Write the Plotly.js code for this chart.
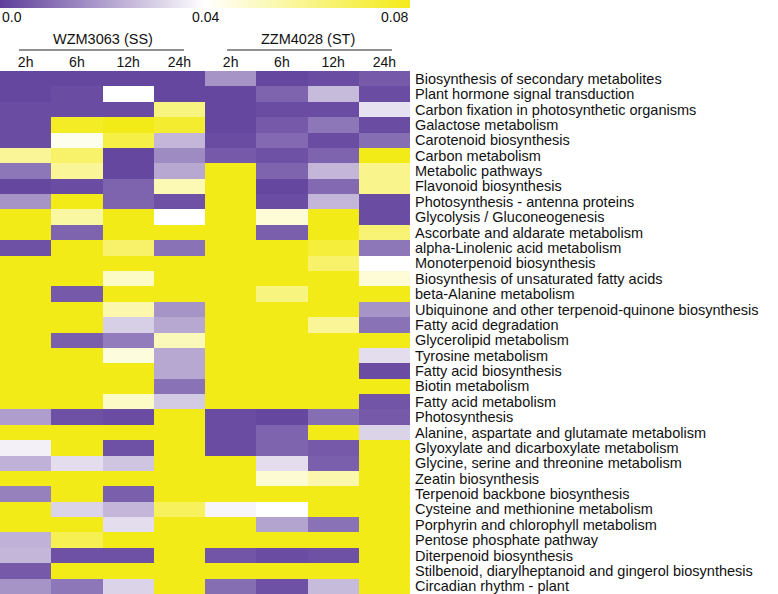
<!DOCTYPE html>
<html>
<head>
<meta charset="utf-8">
<script src="https://cdn.plot.ly/plotly-3.0.1.min.js"></script>
<style>html,body{margin:0;padding:0;background:#fff;}#chart{width:778px;height:594px;}</style>
</head>
<body>
<div id="chart"></div>
<script>
const pathways = [
  "Biosynthesis of secondary metabolites",
  "Plant hormone signal transduction",
  "Carbon fixation in photosynthetic organisms",
  "Galactose metabolism",
  "Carotenoid biosynthesis",
  "Carbon metabolism",
  "Metabolic pathways",
  "Flavonoid biosynthesis",
  "Photosynthesis - antenna proteins",
  "Glycolysis / Gluconeogenesis",
  "Ascorbate and aldarate metabolism",
  "alpha-Linolenic acid metabolism",
  "Monoterpenoid biosynthesis",
  "Biosynthesis of unsaturated fatty acids",
  "beta-Alanine metabolism",
  "Ubiquinone and other terpenoid-quinone biosynthesis",
  "Fatty acid degradation",
  "Glycerolipid metabolism",
  "Tyrosine metabolism",
  "Fatty acid biosynthesis",
  "Biotin metabolism",
  "Fatty acid metabolism",
  "Photosynthesis",
  "Alanine, aspartate and glutamate metabolism",
  "Glyoxylate and dicarboxylate metabolism",
  "Glycine, serine and threonine metabolism",
  "Zeatin biosynthesis",
  "Terpenoid backbone biosynthesis",
  "Cysteine and methionine metabolism",
  "Porphyrin and chlorophyll metabolism",
  "Pentose phosphate pathway",
  "Diterpenoid biosynthesis",
  "Stilbenoid, diarylheptanoid and gingerol biosynthesis",
  "Circadian rhythm - plant"
];
const groups = ["WZM3063 (SS)", "ZZM4028 (ST)"];
const timepoints = ["2h", "6h", "12h", "24h"];
const colorbarTicks = ["0.0", "0.04", "0.08"];
const zMin = 0.0, zMax = 0.08;

const wzm2h  = [.002,.002,.003,.003,.003,.058,.012,.002,.018,.08,.08,.004,.08,.08,.08,.08,.08,.08,.08,.08,.08,.08,.020,.08,.037,.024,.08,.014,.08,.08,.024,.025,.006,.018];
const wzm6h  = [.002,.003,.003,.078,.043,.066,.058,.003,.08,.056,.008,.08,.08,.08,.006,.08,.08,.007,.08,.08,.08,.08,.004,.08,.08,.033,.08,.08,.031,.08,.070,.004,.08,.012];
const wzm12h = [.002,.040,.003,.080,.072,.002,.002,.008,.008,.08,.08,.066,.08,.050,.08,.054,.030,.013,.046,.08,.08,.050,.003,.08,.004,.028,.08,.007,.025,.033,.08,.004,.08,.031];
const wzm24h = [.002,.002,.062,.076,.025,.016,.022,.053,.004,.040,.08,.011,.08,.08,.08,.018,.022,.052,.022,.022,.011,.029,.08,.08,.08,.08,.08,.08,.068,.08,.08,.08,.08,.08];
const zzm2h  = [.018,.002,.002,.002,.003,.006,.08,.08,.08,.08,.08,.08,.08,.08,.08,.08,.08,.08,.08,.08,.08,.08,.003,.003,.003,.08,.08,.08,.038,.08,.08,.005,.08,.010];
const zzm6h  = [.002,.008,.003,.006,.009,.004,.008,.002,.003,.047,.007,.08,.08,.08,.062,.08,.08,.08,.08,.08,.08,.08,.002,.008,.008,.033,.048,.08,.040,.021,.08,.003,.08,.004];
const zzm12h = [.003,.026,.003,.012,.003,.008,.025,.009,.025,.08,.08,.074,.066,.08,.08,.08,.058,.08,.08,.08,.08,.08,.010,.08,.006,.007,.054,.08,.08,.011,.08,.004,.08,.026];
const zzm24h = [.006,.003,.034,.003,.010,.08,.060,.060,.003,.003,.064,.012,.040,.047,.08,.018,.011,.08,.033,.003,.08,.005,.006,.031,.08,.08,.08,.08,.08,.08,.08,.08,.08,.08];

const columns = [wzm2h, wzm6h, wzm12h, wzm24h, zzm2h, zzm6h, zzm12h, zzm24h];
const colLabels = timepoints.concat(timepoints);
const xIdx = colLabels.map((_, i) => i);
const z = pathways.map((_, r) => columns.map(c => c[r]));

const W = 778, H = 594, mL = 0, mR = 368, mT = 71, mB = 0;
const plotH = H - mT - mB;
const pyFromTop = px => (H - mB - px) / plotH; // px from top -> paper y

const font = "Liberation Sans, Arial, sans-serif";

const trace = {
  type: "heatmap",
  x: xIdx,
  y: pathways,
  z: z,
  zmin: zMin, zmax: zMax,
  colorscale: [[0, "#5e3d9a"], [0.5, "#ffffff"], [1, "#f3eb18"]],
  xgap: 0, ygap: 0,
  colorbar: {
    orientation: "h",
    lenmode: "pixels", len: 410,
    thicknessmode: "pixels", thickness: 8,
    x: 0, xanchor: "left", xref: "paper",
    y: 1, yanchor: "top", yref: "container",
    xpad: 0, ypad: 0,
    outlinewidth: 0,
    showticklabels: false,
    ticks: ""
  }
};

const annotations = [
  {text: colorbarTicks[0], x: 0, xanchor: "left", xref: "paper", y: pyFromTop(16.5), yanchor: "middle", yref: "paper", showarrow: false, font: {family: font, size: 14, color: "#111"}},
  {text: colorbarTicks[1], x: 0.5, xanchor: "center", xref: "paper", y: pyFromTop(16.5), yanchor: "middle", yref: "paper", showarrow: false, font: {family: font, size: 14, color: "#111"}},
  {text: colorbarTicks[2], x: 1, xanchor: "right", xref: "paper", y: pyFromTop(16.5), yanchor: "middle", yref: "paper", showarrow: false, font: {family: font, size: 14, color: "#111"}},
  {text: groups[0], x: 1.5, xref: "x", xanchor: "center", y: pyFromTop(38.5), yanchor: "middle", yref: "paper", showarrow: false, font: {family: font, size: 14.5, color: "#111"}},
  {text: groups[1], x: 5.5, xref: "x", xanchor: "center", y: pyFromTop(38.5), yanchor: "middle", yref: "paper", showarrow: false, font: {family: font, size: 14.5, color: "#111"}}
];

const shapes = [
  {type: "line", xref: "x", yref: "paper", x0: -0.13, x1: 3.09, y0: pyFromTop(50), y1: pyFromTop(50), line: {color: "#222", width: 1}},
  {type: "line", xref: "x", yref: "paper", x0: 3.93, x1: 7.15, y0: pyFromTop(50), y1: pyFromTop(50), line: {color: "#222", width: 1}}
];

const layout = {
  width: W, height: H,
  margin: {l: mL, r: mR, t: mT, b: mB, pad: 0},
  paper_bgcolor: "#fff", plot_bgcolor: "#fff",
  font: {family: font, color: "#111"},
  xaxis: {
    side: "top", range: [-0.5, 7.5], tickmode: "array", tickvals: xIdx, ticktext: colLabels,
    ticks: "", showgrid: false, zeroline: false, showline: false,
    tickfont: {family: font, size: 14, color: "#111"}, fixedrange: true
  },
  yaxis: {
    side: "right", autorange: "reversed", type: "category",
    tickmode: "array", tickvals: pathways, ticktext: pathways,
    ticks: "", showgrid: false, zeroline: false, showline: false,
    tickfont: {family: font, size: 14.5, color: "#111"},
    ticklabelstandoff: 4, fixedrange: true
  },
  annotations: annotations,
  shapes: shapes,
  showlegend: false
};

Plotly.newPlot("chart", [trace], layout, {displayModeBar: false, staticPlot: true});
</script>
</body>
</html>
